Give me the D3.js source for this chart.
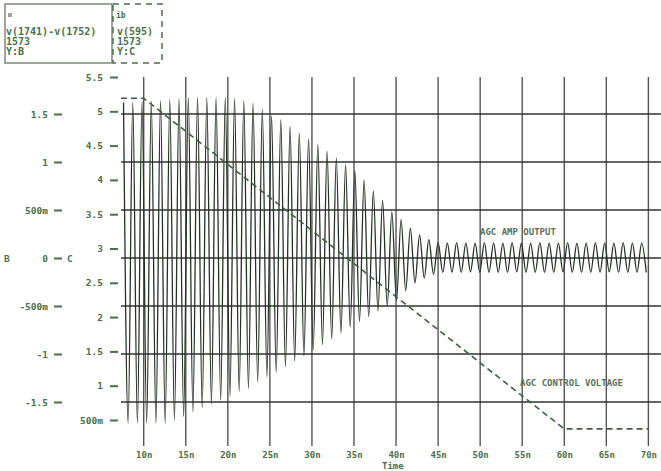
<!DOCTYPE html>
<html>
<head>
<meta charset="utf-8">
<script src="https://cdn.jsdelivr.net/npm/d3@7"></script>
<style>
  html, body { margin: 0; padding: 0; background: #fff; }
  svg { display: block; }
  text { font-family: "DejaVu Sans Mono", monospace; font-weight: bold; }
</style>
</head>
<body>
<svg id="chart" width="661" height="471"></svg>
<script>
// ---- data -------------------------------------------------------------
// Time axis ticks (ns) and labels
const timeTicks = [10, 15, 20, 25, 30, 35, 40, 45, 50, 55, 60, 65, 70];
const timeTickLabels = ["10n", "15n", "20n", "25n", "30n", "35n", "40n", "45n", "50n", "55n", "60n", "65n", "70n"];

// Axis B (AGC amplifier output, volts)
const bTicks = [1.5, 1, 0.5, 0, -0.5, -1, -1.5];
const bTickLabels = ["1.5", "1", "500m", "0", "-500m", "-1", "-1.5"];

// Axis C (AGC control voltage, volts)
const cTicks = [5.5, 5, 4.5, 4, 3.5, 3, 2.5, 2, 1.5, 1, 0.5];
const cTickLabels = ["5.5", "5", "4.5", "4", "3.5", "3", "2.5", "2", "1.5", "1", "500m"];

// AGC amp output: successive peaks / troughs of the carrier, v(1741)-v(1752)
const ampStart = 7.6;   // ns, first peak
const ampEnd = 69.75;   // ns, last extreme
const ampExtremes = [
  1.62, -1.72, 1.62, -1.72, 1.63, -1.72, 1.63, -1.72, 1.64, -1.72,
  1.65, -1.69, 1.66, -1.65, 1.67, -1.60, 1.67, -1.56, 1.67, -1.52,
  1.67, -1.48, 1.67, -1.44, 1.66, -1.39, 1.64, -1.36, 1.61, -1.29,
  1.55, -1.24, 1.48, -1.19, 1.44, -1.13, 1.37, -1.07, 1.30, -1.02,
  1.24, -0.96, 1.18, -0.90, 1.11, -0.84, 1.04, -0.78, 0.97, -0.72,
  0.91, -0.66, 0.81, -0.61, 0.70, -0.55, 0.60, -0.50, 0.48, -0.44,
  0.40, -0.34, 0.31, -0.26, 0.24, -0.21, 0.19, -0.17, 0.16, -0.15,
  0.155, -0.15, 0.16, -0.15, 0.155, -0.145, 0.155, -0.15, 0.16, -0.15,
  0.155, -0.15, 0.155, -0.15, 0.16, -0.145, 0.155, -0.15, 0.155, -0.15,
  0.16, -0.15, 0.155, -0.15, 0.155, -0.145, 0.16, -0.15, 0.155, -0.15,
  0.155, -0.15, 0.16, -0.15, 0.155, -0.145, 0.155, -0.15, 0.16, -0.15,
  0.155, -0.15, 0.155, -0.15
];

// AGC control voltage, v(595): [time ns, volts]
const ctrlTimes = [7.3, 10, 60, 70];
const ctrlVolts = [5.19, 5.19, 0.37, 0.37];

// Legend entries
const legendA = ["v(1741)-v(1752)", "1573", "Y:B"];
const legendB = ["v(595)", "1573", "Y:C"];

// ---- layout -----------------------------------------------------------
const svg = d3.select("#chart");
const green = "#4b6f4b";
const plotTop = 77, plotBottom = 446, plotLeft = 121, plotRight = 661;

const x = d3.scaleLinear().domain([7.3, 71.5]).range([plotLeft, plotRight]);
const yB = d3.scaleLinear().domain([-1.5, 1.5]).range([402, 114]);
const yC = d3.scaleLinear().domain([0.5, 5.5]).range([420, 77]);
// sample index -> time for the carrier extremes
const idxToTime = d3.scaleLinear().domain([0, ampExtremes.length - 1]).range([ampStart, ampEnd]);

// ---- grid -------------------------------------------------------------
const grid = svg.append("g");
grid.selectAll("line.v").data(timeTicks).join("line")
  .attr("x1", d => x(d)).attr("x2", d => x(d))
  .attr("y1", plotTop).attr("y2", plotBottom)
  .attr("stroke", "#555").attr("stroke-width", 1.4);
grid.selectAll("line.h").data(bTicks).join("line")
  .attr("x1", plotLeft).attr("x2", plotRight)
  .attr("y1", d => yB(d)).attr("y2", d => yB(d))
  .attr("stroke", "#333").attr("stroke-width", 1.4);

// ---- axes -------------------------------------------------------------
function styleAxis(g) {
  g.select(".domain").remove();
  g.selectAll(".tick line").attr("stroke", green).attr("stroke-width", 2);
  g.selectAll(".tick text").attr("fill", green).attr("font-size", 9.5);
}

svg.append("g").attr("transform", "translate(118,0)")
  .call(d3.axisLeft(yC).tickValues(cTicks)
    .tickFormat((d, i) => cTickLabels[i]).tickSize(8).tickPadding(7))
  .call(styleAxis);

svg.append("g").attr("transform", "translate(62,0)")
  .call(d3.axisLeft(yB).tickValues(bTicks)
    .tickFormat((d, i) => bTickLabels[i]).tickSize(8).tickPadding(6))
  .call(styleAxis);

svg.append("g").attr("transform", "translate(0,446)")
  .call(d3.axisBottom(x).tickValues(timeTicks)
    .tickFormat((d, i) => timeTickLabels[i]).tickSize(0).tickPadding(6))
  .call(g => {
    g.select(".domain").remove();
    g.selectAll(".tick text").attr("fill", green).attr("font-size", 9);
  });

// axis titles
svg.append("text").attr("x", 4).attr("y", yB(0) + 4)
  .attr("fill", green).attr("font-size", 9.5).text("B");
svg.append("text").attr("x", 67).attr("y", yB(0) + 4)
  .attr("fill", green).attr("font-size", 9.5).text("C");
svg.append("text").attr("x", 382).attr("y", 469)
  .attr("fill", green).attr("font-size", 9).text("Time");

// ---- traces -----------------------------------------------------------
const ampLine = d3.line()
  .x((d, i) => x(idxToTime(i)))
  .y(d => yB(d))
  .curve(d3.curveMonotoneX);
svg.append("path").datum(ampExtremes)
  .attr("d", ampLine)
  .attr("fill", "none").attr("stroke", "#243224").attr("stroke-width", 1.3);

const ctrlLine = d3.line()
  .x((d, i) => x(ctrlTimes[i]))
  .y(d => yC(d));
svg.append("path").datum(ctrlVolts)
  .attr("d", ctrlLine)
  .attr("fill", "none").attr("stroke", "#3f5f3f").attr("stroke-width", 1.6)
  .attr("stroke-dasharray", "6,4");

// trace annotations
svg.append("text").attr("x", 480).attr("y", 235)
  .attr("fill", "#5b6f5b").attr("font-size", 9).attr("font-weight", "normal")
  .text("AGC AMP OUTPUT");
svg.append("text").attr("x", 520).attr("y", 386)
  .attr("fill", "#5b6f5b").attr("font-size", 9).attr("font-weight", "normal")
  .text("AGC CONTROL VOLTAGE");

// ---- legend boxes -----------------------------------------------------
svg.append("rect").attr("x", 5).attr("y", 4).attr("width", 107).attr("height", 59)
  .attr("fill", "none").attr("stroke", "#7a8a7a").attr("stroke-width", 1.5);
svg.append("rect").attr("x", 8).attr("y", 13).attr("width", 4).attr("height", 4)
  .attr("fill", "#9aa89a");
svg.selectAll("text.legA").data(legendA).join("text")
  .attr("x", 6).attr("y", (d, i) => 35 + i * 10)
  .attr("fill", green).attr("font-size", 10).text(d => d);

svg.append("rect").attr("x", 113).attr("y", 4).attr("width", 49).attr("height", 59)
  .attr("fill", "none").attr("stroke", green).attr("stroke-width", 1.5)
  .attr("stroke-dasharray", "6,5");
svg.append("text").attr("x", 116).attr("y", 18)
  .attr("fill", green).attr("font-size", 8).text("ib");
svg.selectAll("text.legB").data(legendB).join("text")
  .attr("x", 117).attr("y", (d, i) => 35 + i * 10)
  .attr("fill", green).attr("font-size", 10).text(d => d);
</script>
</body>
</html>
